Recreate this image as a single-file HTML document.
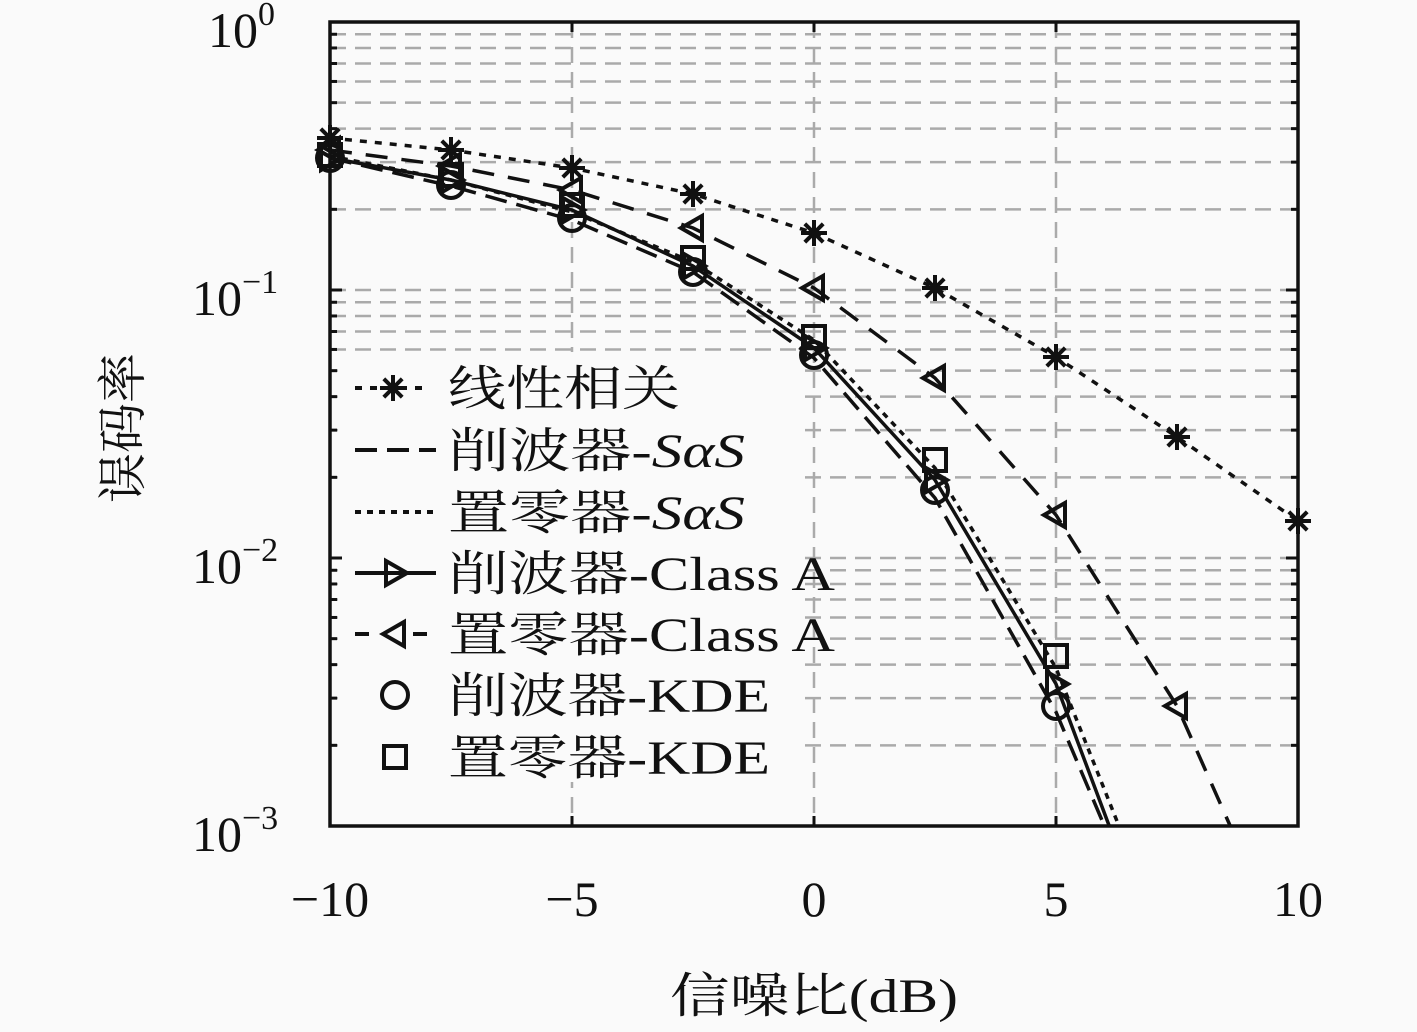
<!DOCTYPE html>
<html><head><meta charset="utf-8"><style>
html,body{margin:0;padding:0;background:#fafafa}
svg{display:block}
text{font-family:"Liberation Serif","Noto Serif CJK SC",serif;fill:#111}
</style></head><body>
<svg id="s" width="1417" height="1032" xmlns="http://www.w3.org/2000/svg"></svg>
<script>
const L=330,R=1298,T=22,B=826,D=268;
const X=v=>L+(v+10)*(R-L)/20;
let h='';
const g=y=>`<line x1="${L}" x2="${R}" y1="${y}" y2="${y}" stroke="#aaa" stroke-width="2.5" stroke-dasharray="16,9"/>`;
for(let d=0;d<3;d++){for(let k=2;k<=9;k++){h+=g(T+D*(d+1)-Math.log10(k)*D);}}
for(let d=1;d<3;d++)h+=g(T+D*d);
for(const v of [-5,0,5]){h+=`<line x1="${X(v)}" x2="${X(v)}" y1="${T}" y2="${B}" stroke="#aaa" stroke-width="2.5" stroke-dasharray="16,9"/>`;}
h+=`<rect x="338" y="352" width="458" height="430" fill="#fafafa"/>`;
const pts=a=>a.map(p=>p.join(',')).join(' ');
const lin=[[-10,138],[-7.5,150],[-5,168],[-2.5,194],[0,233],[2.5,288],[5,357],[7.5,437],[10,521]].map(p=>[X(p[0]),p[1]]);
const cs=[[-10,158],[-7.5,186],[-5,220],[-2.5,272],[0,358],[2.5,498],[5,712],[6,826]].map(p=>[X(p[0]),p[1]]);
const ns=[[-10,156],[-7.5,180],[-5,212],[-2.5,262],[0,340],[2.5,468],[5,668],[6.3,826]].map(p=>[X(p[0]),p[1]]);
const ca=[[-10,158],[-7.5,180],[-5,210],[-2.5,266],[0,348],[2.5,480],[5,684],[6.1,826]].map(p=>[X(p[0]),p[1]]);
const na=[[-10,150],[-7.5,166],[-5,190],[-2.5,228],[0,288],[2.5,378],[5,515],[7.5,706],[8.6,826]].map(p=>[X(p[0]),p[1]]);
h+=`<clipPath id="c"><rect x="${L}" y="${T}" width="${R-L}" height="${B-T}"/></clipPath><g clip-path="url(#c)" fill="none" stroke="#111" stroke-width="3.5">`;
h+=`<polyline points="${pts(lin)}" stroke-dasharray="7,8"/>`;
h+=`<polyline points="${pts(cs)}" stroke-dasharray="22,10"/>`;
h+=`<polyline points="${pts(ns)}" stroke-dasharray="6,6"/>`;
h+=`<polyline points="${pts(ca)}"/>`;
h+=`<polyline points="${pts(na)}" stroke-dasharray="22,14"/></g>`;
const star=(x,y)=>{let s='';for(let a=0;a<4;a++){const t=a*Math.PI/4;s+=`<line x1="${x-13*Math.cos(t)}" y1="${y-13*Math.sin(t)}" x2="${x+13*Math.cos(t)}" y2="${y+13*Math.sin(t)}"/>`;}return s;};
const tr=(x,y)=>`<polygon points="${x-9},${y-12} ${x-9},${y+12} ${x+12},${y}"/>`;
const tl=(x,y)=>`<polygon points="${x+9},${y-12} ${x+9},${y+12} ${x-12},${y}"/>`;
const ci=(x,y)=>`<circle cx="${x}" cy="${y}" r="13"/>`;
const sq=(x,y)=>`<rect x="${x-11}" y="${y-11}" width="22" height="22"/>`;
h+=`<g fill="none" stroke="#111" stroke-width="4">`;
lin.forEach(p=>h+=star(p[0],p[1]));
ca.slice(0,7).forEach(p=>h+=tr(p[0],p[1]));
na.slice(0,8).forEach(p=>h+=tl(p[0],p[1]));
[[-10,158],[-7.5,185],[-5,218],[-2.5,272],[0,355],[2.5,490],[5,706]].forEach(p=>h+=ci(X(p[0]),p[1]));
[[-10,155],[-7.5,175],[-5,205],[-2.5,258],[0,337],[2.5,460],[5,656]].forEach(p=>h+=sq(X(p[0]),p[1]));
const ly=[388,450,512,573,634,695,757];
h+=`<line x1="355" x2="430" y1="${ly[0]}" y2="${ly[0]}" stroke-dasharray="7,8"/>`+star(393,ly[0]);
h+=`<line x1="355" x2="436" y1="${ly[1]}" y2="${ly[1]}" stroke-dasharray="22,10"/>`;
h+=`<line x1="355" x2="436" y1="${ly[2]}" y2="${ly[2]}" stroke-dasharray="6,6"/>`;
h+=`<line x1="355" x2="436" y1="${ly[3]}" y2="${ly[3]}"/>`+tr(395,ly[3]);
h+=`<line x1="355" x2="436" y1="${ly[4]}" y2="${ly[4]}" stroke-dasharray="14,44"/>`+tl(395,ly[4]);
h+=ci(395,ly[5])+sq(395,ly[6]);
h+=`</g>`;
h+=`<rect x="${L}" y="${T}" width="${R-L}" height="${B-T}" fill="none" stroke="#111" stroke-width="3.5"/>`;
let tk='';
for(const v of [-10,-5,0,5,10]){tk+=`<line x1="${X(v)}" x2="${X(v)}" y1="${B}" y2="${B-10}"/><line x1="${X(v)}" x2="${X(v)}" y1="${T}" y2="${T+10}"/>`;}
for(let d=0;d<3;d++){for(let k=1;k<=9;k++){const y=T+D*(d+1)-Math.log10(k)*D;const w=k==1?12:7;tk+=`<line x1="${L}" x2="${L+w}" y1="${y}" y2="${y}"/><line x1="${R}" x2="${R-w}" y1="${y}" y2="${y}"/>`;}}
h+=`<g stroke="#111" stroke-width="3">${tk}</g>`;
const yl=[['0',47,208],['−1',315,192],['−2',583,192],['−3',851,192]];
yl.forEach(a=>{h+=`<text x="${a[2]}" y="${a[1]}" font-size="50">10<tspan font-size="34" dy="-22">${a[0]}</tspan></text>`;});
[[-10,'−10'],[-5,'−5'],[0,'0'],[5,'5'],[10,'10']].forEach(a=>h+=`<text x="${X(a[0])}" y="916" font-size="50" text-anchor="middle">${a[1]}</text>`);
h+=`<text x="670" y="1012" font-size="48" textLength="288" lengthAdjust="spacingAndGlyphs">信噪比(dB)</text>`;
h+=`<text transform="translate(140,428) rotate(-90)" font-size="50" text-anchor="middle">误码率</text>`;
const lt=[['线性相关',232],['削波器-<tspan font-style="italic">SαS</tspan>',297],['置零器-<tspan font-style="italic">SαS</tspan>',297],['削波器-Class A',387],['置零器-Class A',387],['削波器-KDE',322],['置零器-KDE',322]];
lt.forEach((t,i)=>h+=`<text x="448" y="${ly[i]+17}" font-size="48" textLength="${t[1]}" lengthAdjust="spacingAndGlyphs">${t[0]}</text>`);
document.getElementById('s').innerHTML=h;
</script>
</body></html>
